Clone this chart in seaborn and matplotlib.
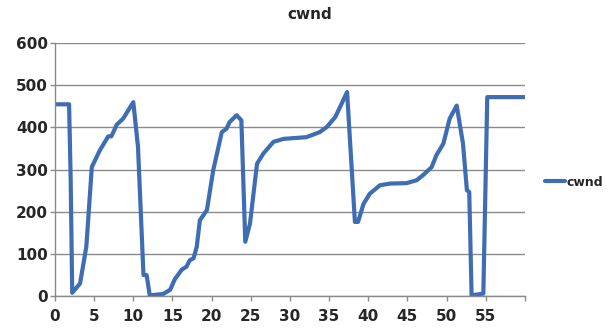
import numpy as np
import pandas as pd
import matplotlib
matplotlib.use("Agg")
import matplotlib.pyplot as plt
import seaborn as sns

# cwnd trace
time = [0.0, 1.8, 2.0, 2.2, 3.2, 4.0, 4.7, 5.7, 6.8, 7.2, 7.9, 8.7, 10.0,
        10.6, 11.3, 11.7, 12.1, 13.8, 14.7, 15.3, 16.2, 16.8, 17.2, 17.7,
        18.1, 18.5, 19.4, 20.2, 21.3, 21.9, 22.3, 23.2, 23.8, 24.3, 24.9,
        25.8, 26.6, 27.9, 29.2, 32.1, 33.8, 34.7, 35.8, 37.3, 38.3, 38.7,
        39.4, 40.2, 41.5, 42.8, 44.9, 46.2, 47.0, 48.1, 48.7, 49.6, 50.4,
        51.3, 52.1, 52.6, 52.9, 53.2, 54.7, 55.2, 60.0]
cwnd = [455, 455, 280, 8, 30, 117, 306, 345, 379, 379, 407, 421, 460,
        354, 50, 50, 2, 5, 15, 40, 63, 70, 85, 90,
        117, 180, 204, 298, 389, 397, 413, 429, 417, 129, 172,
        314, 338, 366, 373, 377, 389, 401, 425, 484, 176, 176,
        219, 243, 263, 267, 268, 275, 287, 306, 334, 362, 421,
        452, 362, 251, 247, 2, 6, 472, 472]
x_ticks = list(range(0, 61, 5))
x_labels = [str(t) for t in range(0, 56, 5)] + [""]
y_ticks = [0, 100, 200, 300, 400, 500, 600]

df = pd.DataFrame({"time": time, "cwnd": cwnd})

sns.set_style("white")
plt.rcParams["font.family"] = ["DejaVu Sans"]

fig = plt.figure(figsize=(6.11, 3.32), dpi=100)
ax = fig.add_axes([0.09, 0.108, 0.769, 0.762])

sns.lineplot(data=df, x="time", y="cwnd", ax=ax, color="#3f6db3",
             linewidth=3.0, label="cwnd", sort=False)

ax.set_xlim(0, 60)
ax.set_ylim(0, 600)
ax.set_xticks(x_ticks)
ax.set_xticklabels(x_labels, fontsize=11, fontweight="bold")
ax.set_yticks(y_ticks)
ax.set_yticklabels([str(v) for v in y_ticks], fontsize=11, fontweight="bold")
ax.set_xlabel("")
ax.set_ylabel("")
ax.yaxis.grid(True, color="#8a8a8a", linewidth=1.0)
ax.set_axisbelow(True)
for side in ["top", "right"]:
    ax.spines[side].set_visible(False)
for side in ["left", "bottom"]:
    ax.spines[side].set_color("#8a8a8a")
    ax.spines[side].set_linewidth(1.0)
ax.tick_params(axis="both", direction="out", length=3.6, color="#8a8a8a",
               width=1.0, bottom=True, left=True)
ax.tick_params(axis="x", pad=6)
ax.tick_params(axis="y", pad=1.5)

leg = ax.legend(loc="center left", bbox_to_anchor=(1.043, 0.45), frameon=False,
                handlelength=1.6, handletextpad=0.1, borderaxespad=0,
                borderpad=0, prop={"size": 9, "weight": "bold"})

fig.text(0.507, 0.955, "cwnd", ha="center", va="center",
         fontsize=11, fontweight="bold")

fig.savefig("out.png", dpi=100)
